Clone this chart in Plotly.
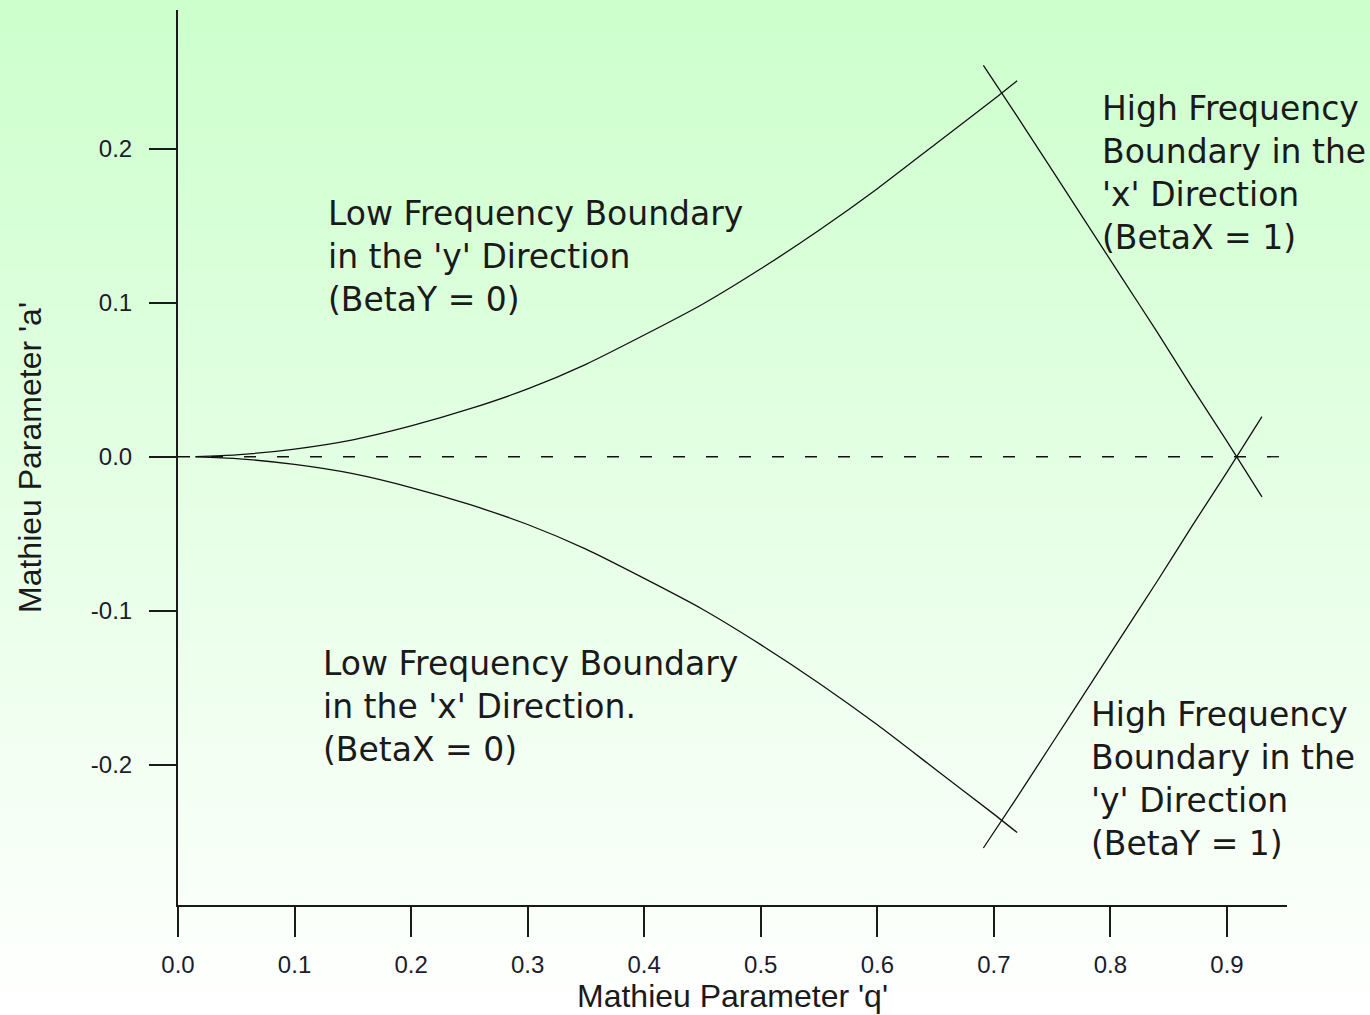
import plotly.graph_objects as go

# Mathieu stability diagram: (q, a) boundaries of the first stability region
q_low = [0.015, 0.05, 0.10, 0.15, 0.20, 0.25, 0.30, 0.35, 0.40, 0.45,
         0.50, 0.55, 0.60, 0.65, 0.70, 0.72]
a_low_y = [0.0001, 0.0012, 0.005, 0.011, 0.020, 0.031, 0.044, 0.060, 0.079,
           0.099, 0.122, 0.147, 0.174, 0.203, 0.232, 0.244]
a_low_x = [-0.0001, -0.0012, -0.005, -0.011, -0.020, -0.031, -0.044, -0.060,
           -0.079, -0.099, -0.122, -0.147, -0.174, -0.203, -0.232, -0.244]

q_high = [0.691, 0.72, 0.75, 0.78, 0.81, 0.84, 0.87, 0.90, 0.93]
a_high_x = [0.254, 0.221, 0.186, 0.151, 0.116, 0.081, 0.045, 0.010, -0.026]
a_high_y = [-0.254, -0.221, -0.186, -0.151, -0.116, -0.081, -0.045, -0.010, 0.026]

q_axis_line = [0.0, 0.955]
a_axis_line = [0.0, 0.0]

x_ticks = [0.0, 0.1, 0.2, 0.3, 0.4, 0.5, 0.6, 0.7, 0.8, 0.9]
x_tick_text = ["0.0", "0.1", "0.2", "0.3", "0.4", "0.5", "0.6", "0.7", "0.8", "0.9"]
y_ticks = [-0.2, -0.1, 0.0, 0.1, 0.2]
y_tick_text = ["-0.2", "-0.1", "0.0", "0.1", "0.2"]

labels = [
    (0.127, 0.130, "Low Frequency Boundary<br>in the 'y' Direction<br>(BetaY = 0)"),
    (0.1225, -0.162, "Low Frequency Boundary<br>in the 'x' Direction.<br>(BetaX = 0)"),
    (0.791, 0.184, "High Frequency<br>Boundary in the<br>'x' Direction<br>(BetaX = 1)"),
    (0.782, -0.209, "High Frequency<br>Boundary in the<br>'y' Direction<br>(BetaY = 1)"),
]

W, H = 1370, 1015
ML, MR, MT, MB = 178, 83, 10, 110

fig = go.Figure()

line_style = dict(color="#111111", width=1.3, shape="spline", smoothing=0.6)

fig.add_trace(go.Scatter(x=q_axis_line, y=a_axis_line, mode="lines",
                         line=dict(color="#111111", width=1.3, dash="12px,21px"),
                         cliponaxis=False, hoverinfo="skip"))
fig.add_trace(go.Scatter(x=q_low, y=a_low_y, mode="lines", line=line_style))
fig.add_trace(go.Scatter(x=q_low, y=a_low_x, mode="lines", line=line_style))
fig.add_trace(go.Scatter(x=q_high, y=a_high_x, mode="lines", line=line_style))
fig.add_trace(go.Scatter(x=q_high, y=a_high_y, mode="lines", line=line_style))

# vertical green-to-white background gradient built from thin strips
plot_h = H - MT - MB
plot_w = W - ML - MR
y_top = 1 + MT / plot_h
y_bot = -MB / plot_h
x_left = -ML / plot_w
x_right = 1 + MR / plot_w
n_strips = 200
top_rgb = (204, 255, 204)
bot_rgb = (255, 255, 255)
shapes = []
for i in range(n_strips):
    t = (i + 0.5) / n_strips
    r = round(top_rgb[0] + (bot_rgb[0] - top_rgb[0]) * t)
    g = round(top_rgb[1] + (bot_rgb[1] - top_rgb[1]) * t)
    b = round(top_rgb[2] + (bot_rgb[2] - top_rgb[2]) * t)
    y0 = y_top - (y_top - y_bot) * i / n_strips
    y1 = y_top - (y_top - y_bot) * (i + 1) / n_strips
    shapes.append(dict(type="rect", xref="paper", yref="paper",
                       x0=x_left, x1=x_right, y0=y1 - 0.001, y1=y0 + 0.001,
                       fillcolor=f"rgb({r},{g},{b})", line=dict(width=0),
                       layer="below"))

annotations = []
for x, y, text in labels:
    annotations.append(dict(x=x, y=y, xref="x", yref="y", text=text,
                            showarrow=False, xanchor="left", yanchor="middle",
                            align="left",
                            font=dict(family="DejaVu Sans", size=33, color="#1a1a1a")))

tick_font = dict(family="Liberation Sans", size=24, color="#1c1c2c")
title_font = dict(family="Liberation Sans", size=32, color="#1a1a1a")

fig.update_layout(
    width=W, height=H,
    margin=dict(l=ML, r=MR, t=MT, b=MB, pad=0),
    paper_bgcolor="white",
    plot_bgcolor="rgba(0,0,0,0)",
    showlegend=False,
    shapes=shapes,
    annotations=annotations,
    xaxis=dict(range=[0.0, 0.9515], tickvals=x_ticks, ticktext=x_tick_text,
               showgrid=False, zeroline=False, showline=True, linecolor="#1a1a1a",
               linewidth=2, ticks="outside", ticklen=30, tickwidth=2,
               tickcolor="#1a1a1a", tickfont=tick_font, ticklabelstandoff=7,
               title=dict(text="Mathieu Parameter 'q'", font=title_font, standoff=6)),
    yaxis=dict(range=[-0.291, 0.290], tickvals=y_ticks, ticktext=y_tick_text,
               showgrid=False, zeroline=False, showline=True, linecolor="#1a1a1a",
               linewidth=2, ticks="outside", ticklen=27, tickwidth=2,
               tickcolor="#1a1a1a", tickfont=tick_font, ticklabelstandoff=12,
               title=dict(text="Mathieu Parameter 'a'", font=title_font, standoff=40)),
)

fig.write_html("out.html")
